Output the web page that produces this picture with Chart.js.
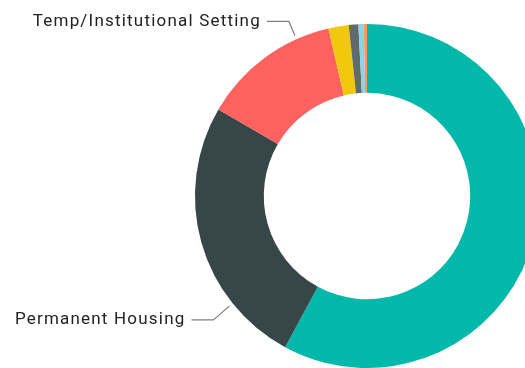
<!DOCTYPE html>
<html>
<head>
<meta charset="utf-8">
<script src="https://cdn.jsdelivr.net/npm/chart.js@4.4.0/dist/chart.umd.min.js"></script>
<style>
  html, body { margin: 0; padding: 0; background: #fff; overflow: hidden; }
  #wrap { position: absolute; left: 0; top: 0; width: 734px; height: 368px; }
</style>
</head>
<body>
<div id="wrap"><canvas id="exitChart"></canvas></div>
<script>
// Exit destinations, share of exits (%)
const destinations = [
  'Unknown/Other',
  'Permanent Housing',
  'Temp/Institutional Setting',
  'Homeless',
  'Deceased',
  'Hospital',
  'Jail/Prison'
];
const shares = [57.9, 25.5, 13.0, 1.9, 0.9, 0.5, 0.3];
const sliceColors = ['#01B8AA', '#374649', '#FD625E', '#F2C80F', '#5F6B6D', '#8AD4EB', '#FE9666'];

// Which slices get an outside label, and where along the slice the leader touches
const labelled = [
  { index: 1, at: 0.25, elbowDx: -16, elbowDy: 14 },
  { index: 2, at: 0.76, elbowDx: -6, elbowDy: -14 }
];

// Draws leader lines and category names outside the ring
const leaderLabels = {
  id: 'leaderLabels',
  afterDatasetsDraw(chart) {
    const ctx = chart.ctx;
    const meta = chart.getDatasetMeta(0);
    ctx.save();
    ctx.font = '17px Roboto';
    ctx.letterSpacing = '1.2px';
    ctx.textAlign = 'right';
    ctx.textBaseline = 'middle';
    labelled.forEach(l => {
      const arc = meta.data[l.index];
      const a = arc.startAngle + (arc.endAngle - arc.startAngle) * l.at;
      const r = arc.outerRadius + 4;
      const ax = arc.x + Math.cos(a) * r;
      const ay = arc.y + Math.sin(a) * r;
      const ex = ax + l.elbowDx;
      const ey = ay + l.elbowDy;
      const lineEnd = ex - 22;
      ctx.strokeStyle = '#808080';
      ctx.lineWidth = 1.2;
      ctx.beginPath();
      ctx.moveTo(ax, ay);
      ctx.lineTo(ex, ey);
      ctx.lineTo(lineEnd, ey);
      ctx.stroke();
      ctx.fillStyle = '#222222';
      ctx.fillText(destinations[l.index], lineEnd - 6, ey);
    });
    ctx.restore();
  }
};

const ctx = document.getElementById('exitChart').getContext('2d');
new Chart(ctx, {
  type: 'doughnut',
  data: {
    labels: destinations,
    datasets: [{
      data: shares,
      backgroundColor: sliceColors,
      borderWidth: 0
    }]
  },
  options: {
    responsive: true,
    maintainAspectRatio: false,
    animation: false,
    radius: 172,
    cutout: '60%',
    layout: { padding: { top: 24, bottom: 0 } },
    plugins: {
      legend: { display: false },
      tooltip: { enabled: false }
    }
  },
  plugins: [leaderLabels]
});
</script>
</body>
</html>
